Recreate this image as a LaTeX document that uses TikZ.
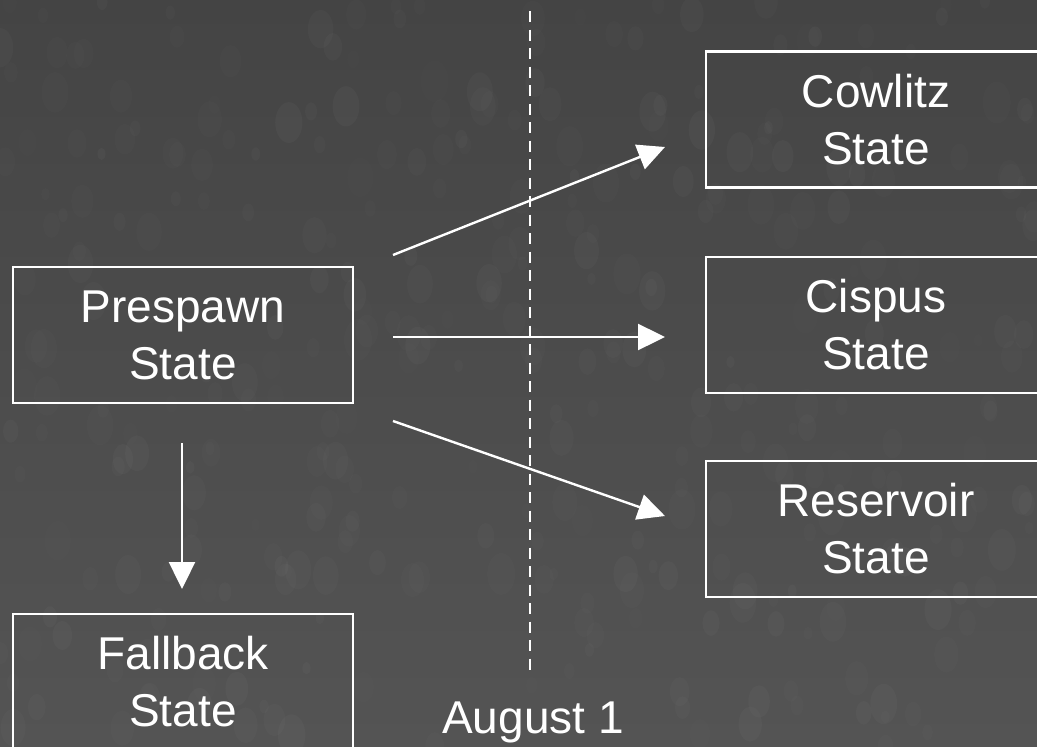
\documentclass[tikz,border=0pt]{standalone}
\usepackage{fontspec}
\setmainfont{Liberation Sans}
\usetikzlibrary{arrows.meta}

\definecolor{bgtop}{HTML}{444444}
\definecolor{bgbottom}{HTML}{545454}

\tikzset{
  statebox/.style={draw=white, line width=2.6pt, text=white, align=center,
    minimum width=340pt, minimum height=136pt, inner sep=0pt,
    font=\fontsize{46}{57}\selectfont},
  flow/.style={draw=white, line width=2.4pt,
    -{Triangle[length=27pt,width=26pt]}},
  cutoff/.style={draw=white, line width=2.6pt, dash pattern=on 11pt off 7.5pt},
  datelabel/.style={text=white, inner sep=0pt, anchor=base,
    font=\fontsize{46}{57}\selectfont}
}

\begin{document}
\begin{tikzpicture}[x=1pt, y=-1pt]
  % canvas: 1037 x 747, y growing downwards
  \useasboundingbox (0,0) rectangle (1037,747);
  \clip (0,0) rectangle (1037,747);
  \shade[top color=bgtop, bottom color=bgbottom] (0,0) rectangle (1037,747);

  % faint mottling of the slide background
  \pgfmathsetseed{11}
  \foreach \i in {1,...,350}{
    \pgfmathsetmacro{\px}{rnd*1037}
    \pgfmathsetmacro{\py}{rnd*747}
    \pgfmathsetmacro{\rs}{4+rnd*10}
    \pgfmathsetmacro{\op}{0.008+rnd*0.018}
    \fill[white, opacity=\op] (\px,\py) ellipse ({\rs} and {\rs*1.5});
  }

  % states
  \node[statebox] (pre)  at (183,335) {Prespawn\\State};
  \node[statebox] (fall) at (183,682) {Fallback\\State};
  \node[statebox] (cow)  at (876,119.5) {Cowlitz\\State};
  \node[statebox] (cis)  at (876,325) {Cispus\\State};
  \node[statebox] (res)  at (876,529) {Reservoir\\State};

  % August 1 cut-off line
  \coordinate (cuttop) at (530,11);
  \coordinate (cutbot) at (530,675);
  \draw[cutoff] (cuttop) -- (cutbot);
  \node[datelabel] (aug) at (533,733) {August 1};

  % transitions
  \coordinate (s1) at (393,255);
  \coordinate (e1) at (665,147);
  \coordinate (s2) at (393,337);
  \coordinate (e2) at (665,337);
  \coordinate (s3) at (393,421);
  \coordinate (e3) at (665,516);
  \coordinate (s4) at (182,443);
  \coordinate (e4) at (182,589);
  \draw[flow] (s1) -- (e1);
  \draw[flow] (s2) -- (e2);
  \draw[flow] (s3) -- (e3);
  \draw[flow] (s4) -- (e4);
\end{tikzpicture}
\end{document}
